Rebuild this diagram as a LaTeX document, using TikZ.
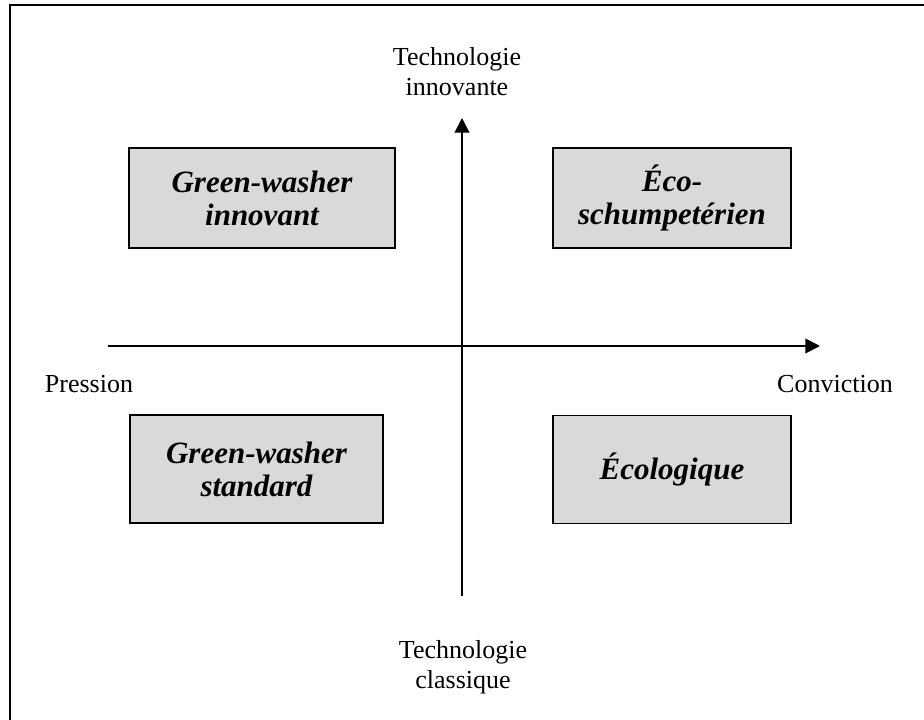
\documentclass[tikz,border=0pt]{standalone}
\usepackage{fontspec}
\setmainfont{Liberation Serif}
\usetikzlibrary{positioning,arrows.meta}
\definecolor{quadgray}{HTML}{D9D9D9}

\begin{document}
\begin{tikzpicture}[x=0.75pt,y=-0.75pt,>={Triangle[length=11pt,width=11pt]},
  quadrant/.style={draw=black, line width=1.1pt, fill=quadgray, inner sep=0pt, align=center, font=\fontsize{23.25}{24.75}\selectfont\bfseries\itshape},
  axislabel/.style={align=center, font=\fontsize{19.5}{22.5}\selectfont}]
\clip (0,0) rectangle (924,720);
\draw[line width=1.5pt] (10,5) rectangle (940,740);
% quadrants
\node[quadrant, minimum width=199.5pt, minimum height=75pt](gwinnov) at (262,198) {Green-washer\\innovant};
\node[quadrant, minimum width=178.5pt, minimum height=75pt](ecoschump) at (672,198) {Éco-\\schumpetérien};
\node[quadrant, minimum width=189.75pt, minimum height=81pt](gwstd) at (256.5,469) {Green-washer\\standard};
\node[quadrant, minimum width=178.5pt, minimum height=81pt](ecolo) at (672,469.5) {Écologique};
% axes
\coordinate (west) at (108,346);
\coordinate (east) at (820,346);
\coordinate (south) at (462,596);
\coordinate (north) at (462,118);
\path[->, line width=1.5pt] (west) edge (east);
\path[->, line width=1.5pt] (south) edge (north);
% axis labels
\node[axislabel](innov) at (457,72) {Technologie\\innovante};
\node[axislabel, anchor=base](pression) at (89,392) {Pression};
\node[axislabel, anchor=base](conviction) at (835,392) {Conviction};
\node[axislabel](classique) at (463,667) {Technologie\\classique};
\end{tikzpicture}
\end{document}
